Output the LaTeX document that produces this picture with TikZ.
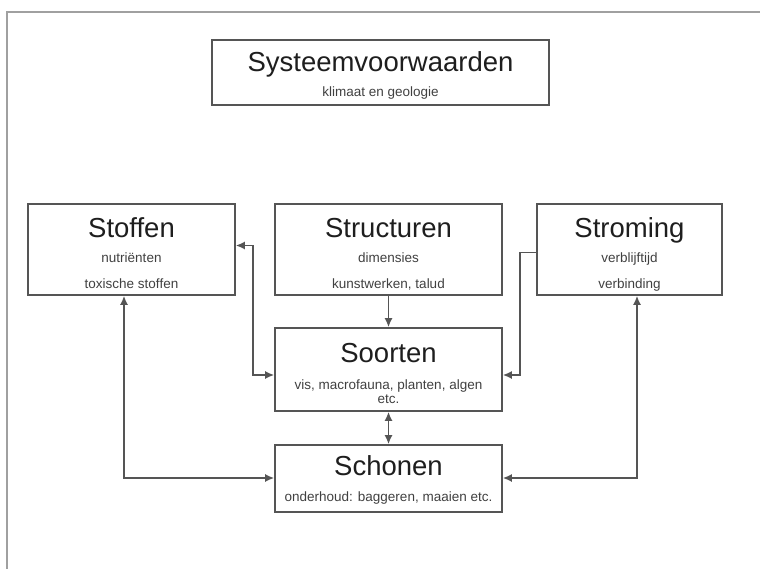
\documentclass[tikz,border=0pt]{standalone}
\usepackage{fontspec}
\setmainfont{Liberation Sans}
\usetikzlibrary{arrows.meta, positioning}

\definecolor{lijn}{HTML}{555555}
\definecolor{kader}{HTML}{A0A0A0}
\definecolor{tekst}{HTML}{1E1E1E}

\tikzset{
  vak/.style={draw=lijn, line width=1.6pt, rectangle, inner sep=0pt},
  kop/.style={anchor=base, inner sep=0pt, text=tekst, font=\fontsize{27.5}{30}\selectfont},
  sub/.style={anchor=base, inner sep=0pt, text=tekst!85, font=\fontsize{13.5}{15}\selectfont},
  pijl/.style={draw=lijn, line width=1.6pt, -{Latex[length=9pt,width=8pt]}},
  tweepijl/.style={draw=lijn, line width=1.6pt, {Latex[length=9pt,width=8pt]}-{Latex[length=9pt,width=8pt]}}
}

\begin{document}
\begin{tikzpicture}[x=1pt, y=-1pt]

\useasboundingbox (0,0) rectangle (760,569);

% Outer frame
\draw[kader, line width=2pt] (7,569) -- (7,12) -- (760,12);

% Boxes
\node[vak, minimum width=337pt, minimum height=65pt] (systeem) at (380.5,72.5) {};
\node[vak, minimum width=207pt, minimum height=91pt] (stoffen) at (131.5,249.5) {};
\node[vak, minimum width=227pt, minimum height=91pt] (structuren) at (388.5,249.5) {};
\node[vak, minimum width=185pt, minimum height=91pt] (stroming) at (629.5,249.5) {};
\node[vak, minimum width=227pt, minimum height=83pt] (soorten) at (388.5,369.5) {};
\node[vak, minimum width=227pt, minimum height=67pt] (schonen) at (388.5,478.5) {};

% Texts
\node[kop] (systeemKop) at (380.5,72) {Systeemvoorwaarden};
\node[sub] (systeemSub) at (380.5,97) {klimaat en geologie};

\node[kop] (stoffenKop) at (131.5,238) {Stoffen};
\node[sub] (stoffenSub1) at (131.5,263) {nutriënten};
\node[sub] (stoffenSub2) at (131.5,288) {toxische stoffen};

\node[kop] (structurenKop) at (388.5,238) {Structuren};
\node[sub] (structurenSub1) at (388.5,263) {dimensies};
\node[sub] (structurenSub2) at (388.5,288) {kunstwerken, talud};

\node[kop] (stromingKop) at (629.5,238) {Stroming};
\node[sub] (stromingSub1) at (629.5,263) {verblijftijd};
\node[sub] (stromingSub2) at (629.5,288) {verbinding};

\node[kop] (soortenKop) at (388.5,362) {Soorten};
\node[sub] (soortenSub1) at (388.5,389) {vis, macrofauna, planten, algen};
\node[sub] (soortenSub2) at (388.5,403) {etc.};

\node[kop] (schonenKop) at (388.5,475) {Schonen};
\node[sub] (schonenSub) at (388.5,501) {onderhoud: baggeren, maaien etc.};

% Bend points
\coordinate (knikL) at (253,375);
\coordinate (knikR) at (520,375);
\coordinate (hoekL) at (124,478);
\coordinate (hoekR) at (637,478);

% Connectors
\draw[tweepijl] ([yshift=4pt]stoffen.east) -| (knikL) -- (knikL -| soorten.west);
\draw[pijl] ([yshift=-3pt]stroming.west) -| (knikR) -- (knikR -| soorten.east);
\draw[pijl] (structuren.south) -- (soorten.north);
\draw[tweepijl] (soorten.south) -- (schonen.north);
\draw[tweepijl] (stoffen.south -| hoekL) -- (hoekL) -- (hoekL -| schonen.west);
\draw[tweepijl] (stroming.south -| hoekR) -- (hoekR) -- (hoekR -| schonen.east);

\end{tikzpicture}
\end{document}
